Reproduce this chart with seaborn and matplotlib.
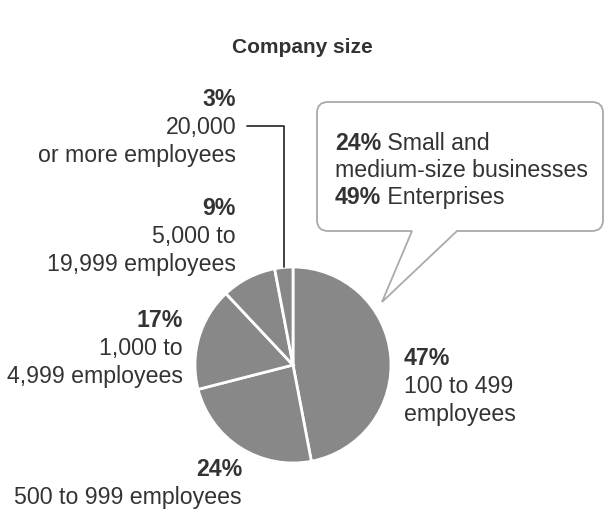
import matplotlib
matplotlib.use("Agg")
import matplotlib.pyplot as plt
from matplotlib.path import Path
from matplotlib.patches import PathPatch
import seaborn as sns

# data
sizes = [47, 24, 17, 9, 3]
pct_labels = ["47%", "24%", "17%", "9%", "3%"]
desc_labels = [
    ["100 to 499", "employees"],
    ["500 to 999 employees"],
    ["1,000 to", "4,999 employees"],
    ["5,000 to", "19,999 employees"],
    ["20,000", "or more employees"],
]
callout_pcts = ["24%", "49%"]
callout_texts = [" Small and", " Enterprises"]
callout_middle = "medium-size businesses"
title = "Company size"

sns.set_theme(style="white")
plt.rcParams["font.family"] = ["Liberation Sans", "DejaVu Sans"]

W, H = 605, 510
TXT = "#333333"
FS = 16.7


def Y(py):
    return H - py


fig = plt.figure(figsize=(W / 100, H / 100), dpi=100)
ax = fig.add_axes([0, 0, 1, 1])

ax.pie(
    sizes,
    colors=["#888888"] * len(sizes),
    startangle=90,
    counterclock=False,
    center=(293, Y(366)),
    radius=98,
    wedgeprops=dict(edgecolor="white", linewidth=2),
)

ax.set_xlim(0, W)
ax.set_ylim(0, H)
ax.set_aspect("equal")
ax.axis("off")

# title
ax.text(302, Y(53), title, ha="center", va="baseline",
        fontsize=15, fontweight="bold", color=TXT)

# label blocks: (x, align, baseline of first line)
blocks = [
    (404, "left", 365),
    (242, "right", 476),
    (183, "right", 327),
    (236, "right", 215),
    (236, "right", 106),
]
step = 28
for (x, ha, y0), pct, lines in zip(blocks, pct_labels, desc_labels):
    ax.text(x, Y(y0), pct, ha=ha, va="baseline", fontsize=FS,
            fontweight="bold", color=TXT)
    for i, line in enumerate(lines):
        ax.text(x, Y(y0 + step * (i + 1)), line, ha=ha, va="baseline",
                fontsize=FS, color=TXT)

# leader line for the 3% slice
ax.plot([247, 284, 284], [Y(127), Y(127), Y(268)], color=TXT, lw=1.3)

# speech bubble
L, R, T, B, r = 317, 603, Y(103), Y(232), 11
tip = (382, Y(303))
verts = [
    (L + r, T), (R - r, T), (R, T), (R, T - r), (R, B + r), (R, B), (R - r, B),
    (457, B), tip, (412, B), (L + r, B), (L, B), (L, B + r), (L, T - r),
    (L, T), (L + r, T), (L + r, T),
]
codes = [
    Path.MOVETO, Path.LINETO, Path.CURVE3, Path.CURVE3, Path.LINETO,
    Path.CURVE3, Path.CURVE3, Path.LINETO, Path.LINETO, Path.LINETO,
    Path.LINETO, Path.CURVE3, Path.CURVE3, Path.LINETO, Path.CURVE3,
    Path.CURVE3, Path.CLOSEPOLY,
]
ax.add_patch(PathPatch(Path(verts, codes), facecolor="white",
                       edgecolor="#aaaaaa", lw=1.3, zorder=3))

cx = 335
c_base = [150, 204]
for yb, pct, rest in zip(c_base, callout_pcts, callout_texts):
    t = ax.text(cx, Y(yb), pct, ha="left", va="baseline", fontsize=FS,
                fontweight="bold", color=TXT, zorder=4)
    ax.annotate(rest, xy=(1, 0), xycoords=t, ha="left", va="bottom",
                fontsize=FS, color=TXT, zorder=4)
ax.text(cx, Y(177), callout_middle, ha="left", va="baseline",
        fontsize=FS, color=TXT, zorder=4)

fig.savefig("out.png", dpi=100)
